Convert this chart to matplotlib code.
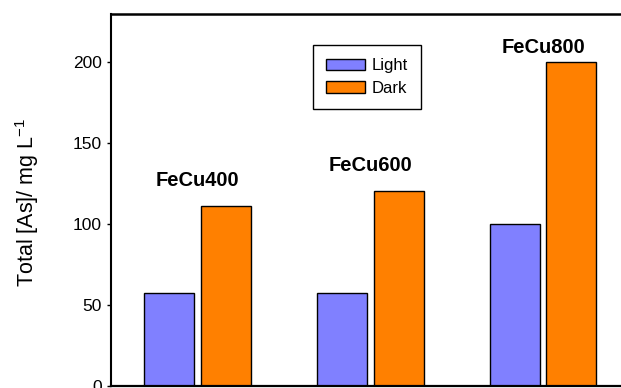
import matplotlib
matplotlib.use("Agg")
import matplotlib.pyplot as plt
import numpy as np

plt.rcParams["font.family"] = ["Liberation Sans", "DejaVu Sans"]
plt.rcParams["mathtext.fontset"] = "custom"
plt.rcParams["mathtext.rm"] = "Liberation Sans"

samples = ["FeCu400", "FeCu600", "FeCu800"]
light = [57, 57, 100]
dark = [111, 120, 200]
yticks = [0, 50, 100, 150, 200]

x = np.arange(1, len(samples) + 1)
width = 0.289
offset = 0.164

fig = plt.figure(figsize=(6.21, 3.88), dpi=100)
# axes run past the right edge of the picture, as in the cropped original
ax = fig.add_axes([111 / 621, 2.5 / 388, 518.5 / 621, 372 / 388])

ax.bar(x - offset, light, width=width, color="#8080FF", edgecolor="black",
       linewidth=1.0, label="Light")
ax.bar(x + offset, dark, width=width, color="#FF8000", edgecolor="black",
       linewidth=1.0, label="Dark")

# sample names above each group
label_y = [127, 136, 209]
for xi, name, ly in zip(x, samples, label_y):
    ax.text(xi, ly, name, ha="center", va="center", fontsize=14.5,
            fontweight="bold")

ax.set_xlim(0.5, 3.5)
ax.set_ylim(0, 230)
ax.set_xticks([])
ax.set_yticks(yticks)
ax.tick_params(axis="y", direction="out", length=3, width=1, pad=3.5,
               labelsize=12.5)

ax.spines["top"].set_linewidth(1.8)
ax.spines["left"].set_linewidth(1.5)
ax.spines["bottom"].set_linewidth(1.6)
ax.spines["right"].set_linewidth(1.5)

ax.set_ylabel("Total [As]/ mg L$^{\\mathregular{-1}}$", fontsize=15.5)
ax.yaxis.set_label_coords(-0.135, 0.492)

ax.legend(loc="upper left", bbox_to_anchor=(313 / 621, 1 - 45 / 388),
          bbox_transform=fig.transFigure, fontsize=12, frameon=True,
          fancybox=False, edgecolor="black", framealpha=1,
          handlelength=2.3, handleheight=0.66, handletextpad=0.4,
          labelspacing=0.45, borderpad=0.8, borderaxespad=0)
ax.get_legend().get_frame().set_linewidth(1.0)

fig.savefig("out.png", dpi=100)
